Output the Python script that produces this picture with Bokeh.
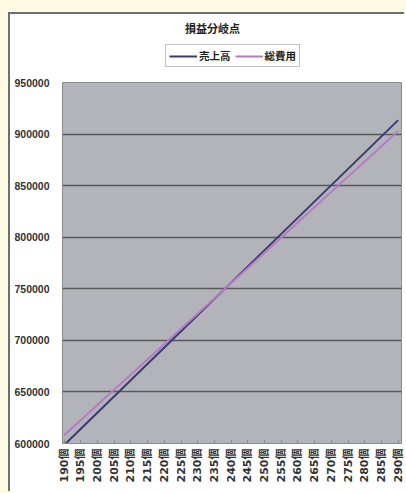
from bokeh.plotting import figure
from bokeh.models import (ColumnDataSource, FixedTicker, Legend, LegendItem,
                          Range1d, NumeralTickFormatter, Label)
from bokeh.layouts import column
from bokeh.embed import file_html
from bokeh.resources import INLINE
from math import pi

# ---- data ----
title_text = "損益分岐点"
units = [190, 195, 200, 205, 210, 215, 220, 225, 230, 235, 240,
         245, 250, 255, 260, 265, 270, 275, 280, 285, 290]
unit_labels = [f"{u}個" for u in units]
sales = [598500, 614250, 630000, 645750, 661500, 677250, 693000, 708750, 724500,
         740250, 756000, 771750, 787500, 803250, 819000, 834750, 850500, 866250,
         882000, 897750, 913500]
total_cost = [608000, 622750, 637500, 652250, 667000, 681750, 696500, 711250, 726000,
              740750, 755500, 770250, 785000, 799750, 814500, 829250, 844000, 858750,
              873500, 888250, 903000]
series_names = ["売上高", "総費用"]
y_ticks = [600000, 650000, 700000, 750000, 800000, 850000, 900000, 950000]

src = ColumnDataSource(dict(x=units, sales=sales, cost=total_cost))

NFONT = "'Liberation Sans', 'Noto Sans CJK JP', sans-serif"
XFONT = "'DejaVu Sans', 'Noto Sans CJK JP', sans-serif"
JFONT = "'Noto Sans CJK JP', sans-serif"
SALES_C = "#3b3b70"
COST_C = "#b57bc6"

# ---- header figure: title + legend ----
top = figure(width=396, height=60, output_backend="svg", toolbar_location=None,
             x_range=Range1d(0, 1), y_range=Range1d(0, 1),
             min_border_left=0, min_border_right=0, min_border_top=0,
             min_border_bottom=0)
top.axis.visible = False
top.grid.visible = False
top.outline_line_color = None
top.border_fill_color = "white"
top.background_fill_color = "white"
# legend proxies (same series, outside this header's visible range)
t1 = top.line("x", "sales", source=src, line_color=SALES_C, line_width=2)
t2 = top.line("x", "cost", source=src, line_color=COST_C, line_width=2)

top.add_layout(Label(x=150, y=47, x_units="screen", y_units="screen",
                     text=title_text, text_align="center", text_baseline="middle",
                     text_font=JFONT, text_font_size="11px",
                     text_font_style="bold", text_color="#222222"))

legend = Legend(items=[LegendItem(label=series_names[0], renderers=[t1]),
                       LegendItem(label=series_names[1], renderers=[t2])],
                orientation="horizontal", location=(103, 7),
                border_line_color="#8a8a8a", border_line_width=1,
                background_fill_color="white", background_fill_alpha=1,
                padding=3, spacing=4, margin=0, glyph_width=28, glyph_height=12,
                label_standoff=2, label_text_font=JFONT,
                label_text_font_size="10.5px", label_text_font_style="bold",
                label_text_color="#222222", label_height=12)
top.add_layout(legend, "center")

# ---- main chart ----
p = figure(width=396, height=419, output_backend="svg", toolbar_location=None,
           x_range=Range1d(189.5, 291), y_range=Range1d(600000, 950000),
           min_border_left=52, min_border_right=5, min_border_top=8,
           min_border_bottom=50)
p.border_fill_color = "white"
p.background_fill_color = "#b3b4ba"
p.outline_line_color = "#8c8c8c"
p.outline_line_width = 1

p.line("x", "sales", source=src, line_color=SALES_C, line_width=2)
p.line("x", "cost", source=src, line_color=COST_C, line_width=2)

# grid
p.xgrid.grid_line_color = None
p.ygrid.ticker = FixedTicker(ticks=y_ticks)
p.ygrid.grid_line_color = "#585858"
p.ygrid.grid_line_width = 1.5

# y axis
p.yaxis.ticker = FixedTicker(ticks=y_ticks)
p.yaxis.formatter = NumeralTickFormatter(format="0")
p.yaxis.axis_line_color = None
p.yaxis.major_tick_line_color = None
p.yaxis.minor_tick_line_color = None
p.yaxis.major_label_standoff = 7
p.yaxis.major_label_text_font = NFONT
p.yaxis.major_label_text_font_size = "10.5px"
p.yaxis.major_label_text_color = "#333333"
p.yaxis.major_label_text_font_style = "bold"

# x axis
p.xaxis.ticker = FixedTicker(ticks=units)
p.xaxis.major_label_overrides = {u: lab for u, lab in zip(units, unit_labels)}
p.xaxis.major_label_orientation = pi / 2
p.xaxis.axis_line_color = "#8c8c8c"
p.xaxis.major_tick_line_color = "#8c8c8c"
p.xaxis.major_tick_in = 4
p.xaxis.major_tick_out = 0
p.xaxis.major_label_standoff = 5
p.xaxis.major_label_text_font = XFONT
p.xaxis.major_label_text_font_size = "11px"
p.xaxis.major_label_text_color = "#333333"
p.xaxis.major_label_text_font_style = "bold"

inner = column(top, p, margin=(14, 0, 0, 10),
               styles={"box-shadow": "-2px -2px 0 #6e6e6e",
                       "background-color": "white"})
page = column(inner, styles={"background-color": "#fdf9e2"}, width=406, height=493)

open("out.html", "w").write(file_html(page, INLINE))
